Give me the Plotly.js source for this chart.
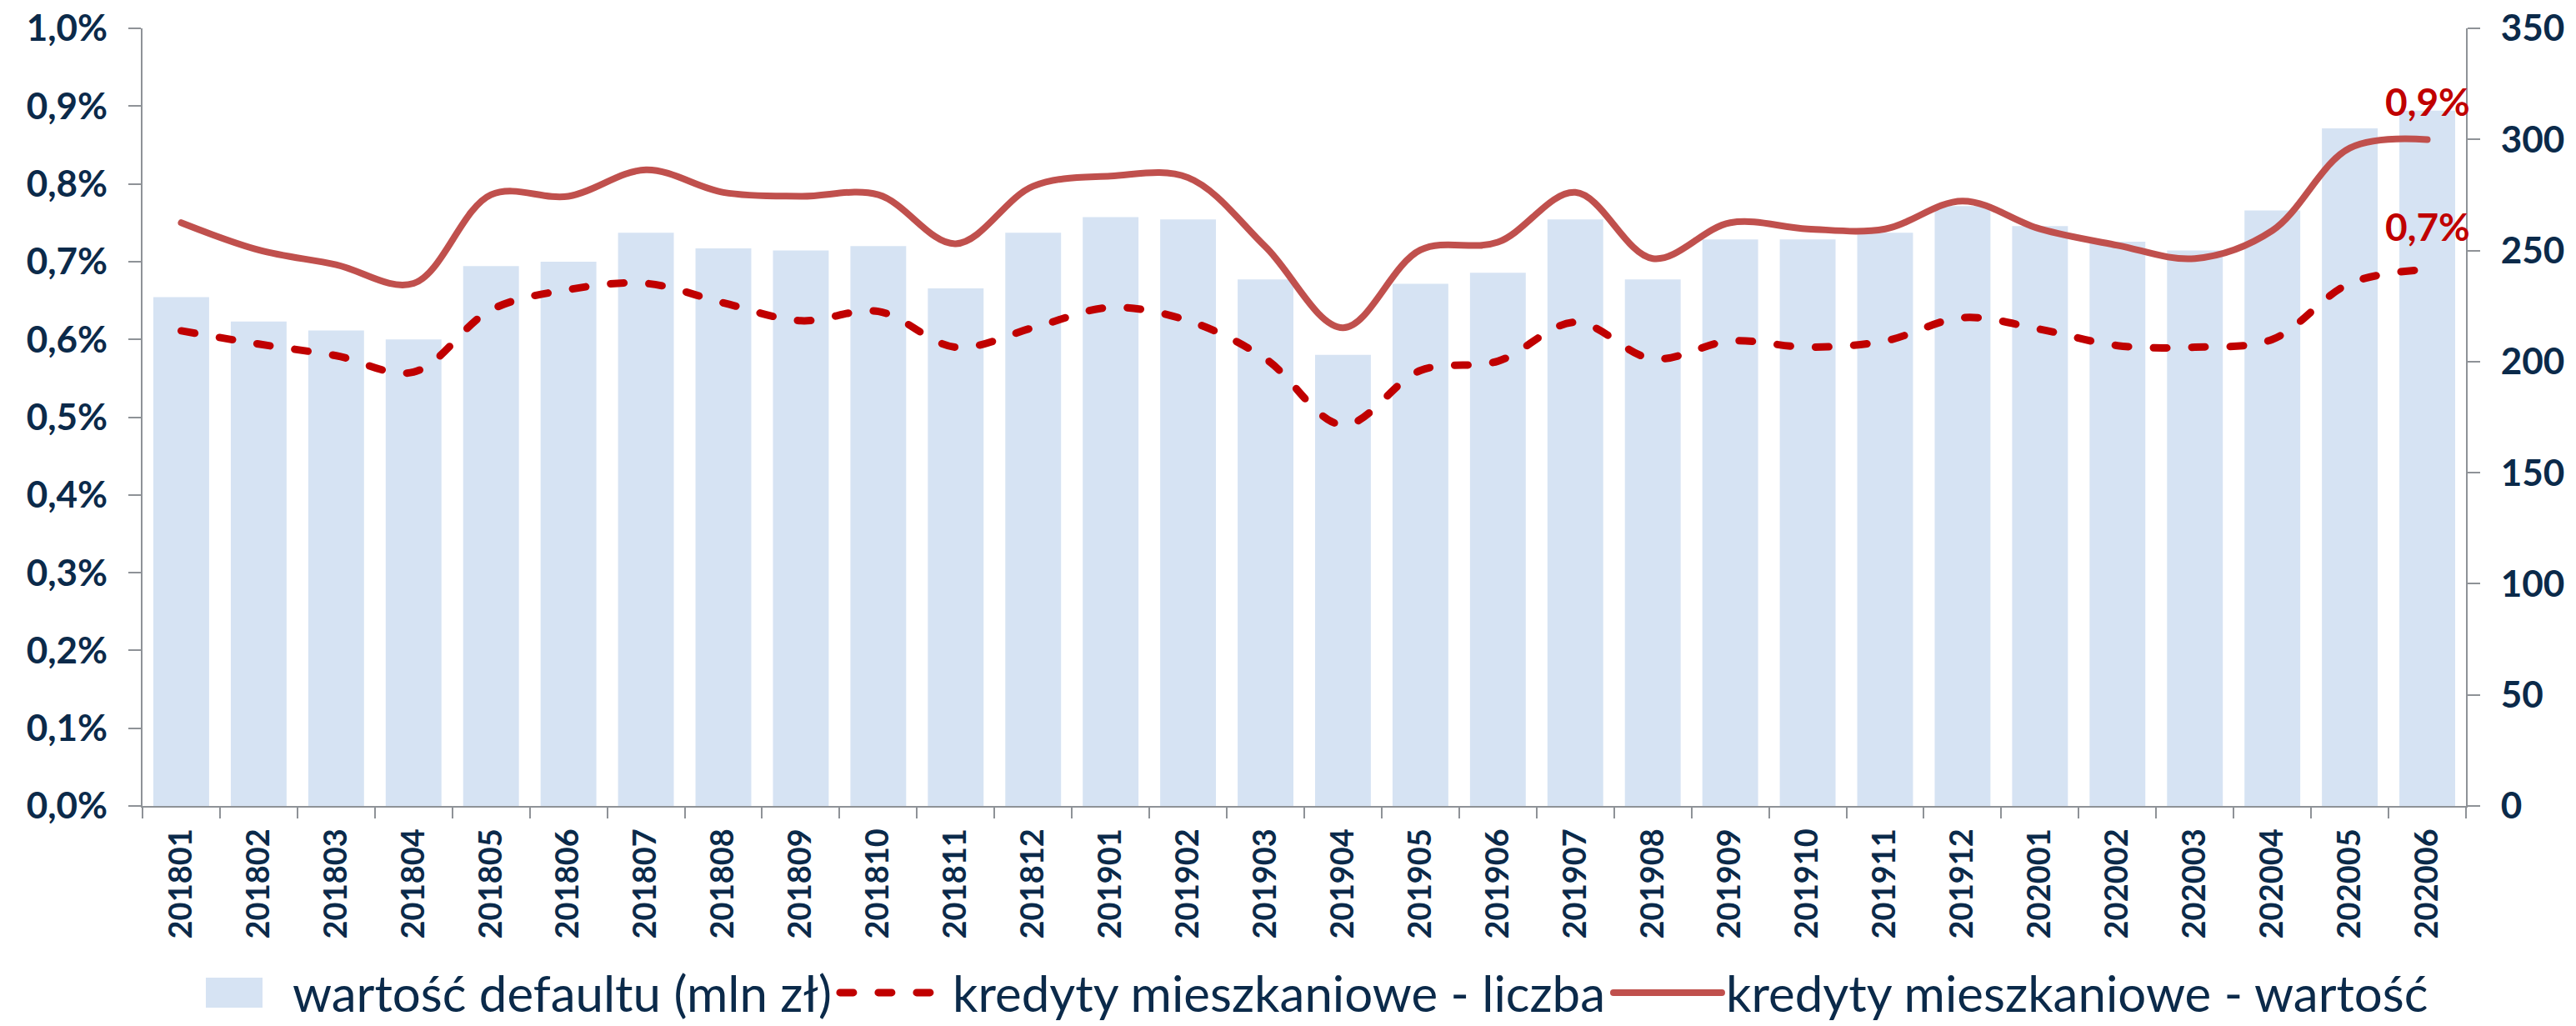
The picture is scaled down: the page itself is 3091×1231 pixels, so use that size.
<!DOCTYPE html>
<html>
<head>
<meta charset="utf-8">
<script src="https://cdn.plot.ly/plotly-3.0.1.min.js"></script>
<style>
html,body{margin:0;padding:0;background:#fff;}
#chart{width:3091px;height:1231px;}
#chart .scatterlayer .js-line, #chart .legend .legendlines path{stroke-linecap:round;}
#chart .legend .traces:first-child .legendpoints path{d:path("M34,18H-34V-18H34Z");}
</style>
</head>
<body>
<div id="chart"></div>
<script>
const months = ["201801","201802","201803","201804","201805","201806","201807","201808","201809","201810","201811","201812","201901","201902","201903","201904","201905","201906","201907","201908","201909","201910","201911","201912","202001","202002","202003","202004","202005","202006"];
const defaultValue = [229,218,214,210,243,245,258,251,250,252,233,258,265,264,237,203,235,240,264,237,255,255,258,270,261,254,250,268,305,313];
const countRate = [0.611,0.594,0.579,0.558,0.638,0.664,0.672,0.647,0.624,0.636,0.590,0.615,0.641,0.624,0.575,0.490,0.560,0.572,0.622,0.575,0.598,0.590,0.598,0.628,0.613,0.592,0.590,0.600,0.672,0.690];
const valueRate = [0.750,0.715,0.696,0.672,0.786,0.784,0.818,0.789,0.784,0.786,0.723,0.797,0.810,0.808,0.719,0.615,0.715,0.725,0.789,0.704,0.750,0.742,0.742,0.778,0.742,0.721,0.704,0.740,0.846,0.857];
const seriesNames = ["wartość defaultu (mln zł)","kredyty mieszkaniowe - liczba","kredyty mieszkaniowe - wartość"];
const endLabels = ["0,9%","0,7%"];

const navy = "#0B2A4A";
const axisGrey = "#8E9297";
const font = "Lato, 'Open Sans', sans-serif";

const traces = [
  {type:"bar", x:months, y:defaultValue, name:seriesNames[0], yaxis:"y",
   marker:{color:"#D6E3F3"}},
  {type:"scatter", mode:"lines", x:months, y:countRate.map(v=>v/100), name:seriesNames[1], yaxis:"y2",
   line:{color:"#C00000", width:9, dash:"16px,30px", shape:"spline", smoothing:1}},
  {type:"scatter", mode:"lines", x:months, y:valueRate.map(v=>v/100), name:seriesNames[2], yaxis:"y2",
   line:{color:"#C0504D", width:8, shape:"spline", smoothing:1}}
];

const last = months.length-1;
const axisCommon = {showgrid:false, zeroline:false, showline:true, linecolor:axisGrey, linewidth:2,
  ticks:"outside", ticklen:15, tickcolor:axisGrey, tickwidth:2,
  tickfont:{size:44, family:font, color:navy, weight:"bold"}, ticklabelstandoff:16};
const layout = {
  width:3091, height:1231,
  separators:", ",
  margin:{l:171, r:132, t:34, b:264, autoexpand:false},
  paper_bgcolor:"#fff", plot_bgcolor:"#fff",
  bargap:0.28,
  showlegend:true,
  font:{family:font, color:navy},
  xaxis:{type:"category", range:[-0.5, last+0.5], tickangle:-90, automargin:false,
    tickfont:{size:38, family:font, color:navy, weight:"bold"}, ticklabelstandoff:10,
    showline:true, linecolor:axisGrey, linewidth:2, ticks:"outside", tickson:"boundaries",
    ticklen:13, tickcolor:axisGrey, tickwidth:2, showgrid:false, zeroline:false},
  yaxis:Object.assign({range:[0,350], dtick:50, side:"right", automargin:false}, axisCommon),
  yaxis2:Object.assign({range:[0,0.01], dtick:0.001, tickformat:".1%", side:"left", overlaying:"y", automargin:false}, axisCommon),
  legend:{orientation:"h", x:0.5, xanchor:"center", y:-0.24, yanchor:"middle",
    font:{size:60, family:font, color:navy}, itemwidth:130, traceorder:"normal"},
  annotations:[
    {x:last, y:valueRate[last]/100, xref:"x", yref:"y2", text:endLabels[0], showarrow:false,
     yanchor:"bottom", yshift:16, font:{size:46, family:font, color:"#C00000", weight:"bold"}},
    {x:last, y:countRate[last]/100, xref:"x", yref:"y2", text:endLabels[1], showarrow:false,
     yanchor:"bottom", yshift:22, font:{size:46, family:font, color:"#C00000", weight:"bold"}}
  ]
};

Plotly.newPlot("chart", traces, layout, {displayModeBar:false, staticPlot:true});
</script>
</body>
</html>
